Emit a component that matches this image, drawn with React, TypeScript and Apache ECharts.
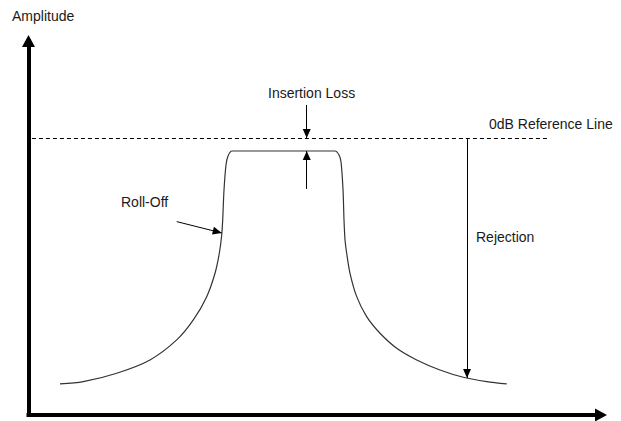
import React, { useEffect, useRef } from "react";
import * as echarts from "echarts";

// Frequency (arbitrary units 0..100) and amplitude (dB) of the filter response
const responseFreq = [
  5.5, 9.57, 15.41, 21.22, 25.89, 28.79, 31.13, 32.58, 33.33, 33.75, 33.92, 34.15, 34.5, 34.85, 35.55,
  44.54, 53.54,
  54.24, 54.59, 54.94, 55.11, 55.29, 55.58, 56.16, 57.33, 59.07, 61.4, 64.31, 67.81, 71.88, 75.95, 80.03, 83.53,
];
const responseDb = [
  -44.4, -43.98, -42.46, -40.06, -36.45, -32.84, -28.64, -24.42, -20.81, -17.51, -14.8, -9.38, -4.87, -3.25, -2.35,
  -2.35, -2.35,
  -3.07, -4.33, -9.38, -14.8, -18.41, -20.81, -24.42, -28.64, -32.25, -35.25, -37.95, -40.06, -41.87, -43.19, -43.98, -44.4,
];

const referenceDb = 0;
const referenceSpan = [0.6, 90.7];
const insertionLossDb = -2.35;
const insertionArrowFreq = 48.6;
const insertionArrowTops = [5.96, -9.2];
const rejectionFreq = 76.6;
const rejectionBottomDb = -43.31;
const rollOffFrom = [25.89, -15.1];
const rollOffTo = [33.75, -17.14];

const labels = [
  { text: "Amplitude", x: 12, y: 16 },
  { text: "Insertion Loss", x: 268, y: 93 },
  { text: "0dB Reference Line", x: 489, y: 124 },
  { text: "Roll-Off", x: 121, y: 202 },
  { text: "Rejection", x: 476, y: 237 },
];

const FONT = '14px "Liberation Sans", Arial, sans-serif';

export default function App() {
  const ref = useRef<HTMLDivElement>(null);
  useEffect(() => {
    if (!ref.current) return;
    const chart = echarts.init(ref.current, null, { renderer: "svg" });
    const axisLine = {
      show: true,
      onZero: false,
      symbol: ["none", "triangle"],
      symbolSize: [13, 12],
      lineStyle: { color: "#000", width: 4, cap: "square" },
    };
    const arrowLine = (a: number[], b: number[]) => [
      { coord: a },
      { coord: b },
    ];
    chart.setOption({
      animation: false,
      backgroundColor: "#fff",
      grid: {
        left: 28.5,
        top: 41,
        width: 572.5,
        height: 374,
        containLabel: false,
        outerBoundsMode: "none",
      },
      xAxis: {
        type: "value",
        min: 0,
        max: 100,
        axisLine,
        axisTick: { show: false },
        axisLabel: { show: false },
        splitLine: { show: false },
      },
      yAxis: {
        type: "value",
        min: -50,
        max: 17.5,
        axisLine,
        axisTick: { show: false },
        axisLabel: { show: false },
        splitLine: { show: false },
      },
      series: [
        {
          type: "line",
          data: responseFreq.map((f, i) => [f, responseDb[i]]),
          showSymbol: false,
          smooth: 0.3,
          silent: true,
          lineStyle: { color: "#333", width: 1.2 },
          markLine: {
            silent: true,
            symbol: ["none", "none"],
            label: { show: false },
            lineStyle: { color: "#000", width: 1, type: [4, 3] },
            data: [arrowLine([referenceSpan[0], referenceDb], [referenceSpan[1], referenceDb])],
          },
        },
        {
          type: "line",
          data: [],
          silent: true,
          markLine: {
            silent: true,
            symbol: ["none", "triangle"],
            symbolSize: [8, 9],
            symbolOffset: [0, [0, 4.5]],
            label: { show: false },
            lineStyle: { color: "#000", width: 1, type: "solid" },
            data: [
              arrowLine([insertionArrowFreq, insertionArrowTops[0]], [insertionArrowFreq, referenceDb]),
              arrowLine([insertionArrowFreq, insertionArrowTops[1]], [insertionArrowFreq, insertionLossDb]),
              arrowLine([rejectionFreq, referenceDb], [rejectionFreq, rejectionBottomDb]),
              arrowLine(rollOffFrom, rollOffTo),
            ],
          },
        },
      ],
      graphic: labels.map((l) => ({
        type: "text",
        x: l.x,
        y: l.y,
        silent: true,
        style: {
          text: l.text,
          font: FONT,
          fill: "#1a1a1a",
          align: "left",
          verticalAlign: "middle",
          textAlign: "left",
          textVerticalAlign: "middle",
        },
      })),
    });
    return () => chart.dispose();
  }, []);
  return (
    <div
      ref={ref}
      style={{ position: "fixed", left: 0, top: 0, width: 621, height: 421 }}
    />
  );
}
